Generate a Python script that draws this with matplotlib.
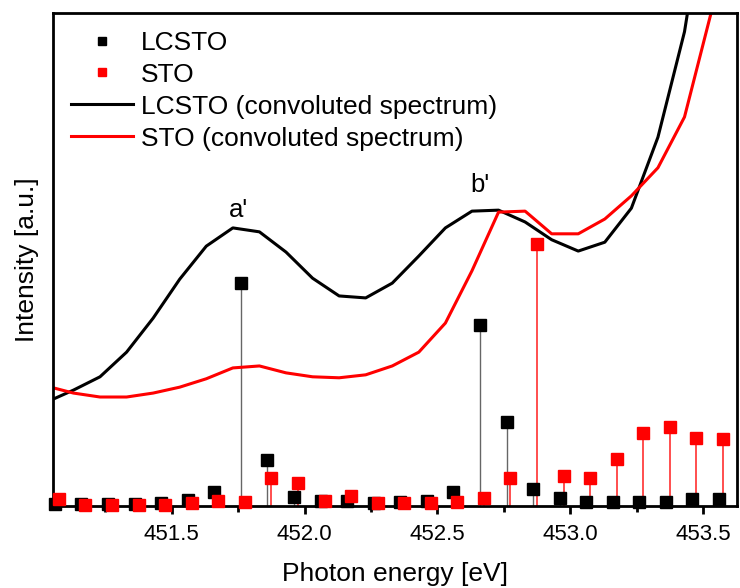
import numpy as np
import matplotlib.pyplot as plt

plt.rcParams['font.family'] = ['Liberation Sans', 'DejaVu Sans']

# stick spectra (photon energy in eV, intensity in a.u.)
lcsto_x = np.round(np.arange(451.06, 453.57, 0.1), 2)
lcsto_y = [0.004, 0.004, 0.004, 0.004, 0.006, 0.012, 0.028, 0.452, 0.093, 0.018,
           0.010, 0.010, 0.006, 0.008, 0.010, 0.028, 0.367, 0.170, 0.034, 0.016,
           0.008, 0.008, 0.008, 0.008, 0.014, 0.014]

sto_x = np.round(np.arange(451.075, 453.59, 0.1), 3)
sto_y = [0.014, 0.002, 0.002, 0.002, 0.002, 0.006, 0.010, 0.008, 0.057, 0.047,
         0.010, 0.020, 0.006, 0.006, 0.006, 0.008, 0.016, 0.057, 0.531, 0.061,
         0.057, 0.095, 0.148, 0.160, 0.138, 0.136]

# convoluted spectra
conv_x = np.round(np.arange(451.03, 453.64, 0.1), 2)
lcsto_conv = [0.211, 0.235, 0.262, 0.312, 0.381, 0.460, 0.527, 0.564, 0.556, 0.515,
              0.462, 0.426, 0.422, 0.452, 0.507, 0.564, 0.598, 0.600, 0.576, 0.540,
              0.517, 0.535, 0.604, 0.748, 0.962, 1.30, 1.70]
sto_conv = [0.243, 0.229, 0.221, 0.221, 0.229, 0.241, 0.258, 0.280, 0.284, 0.270,
            0.262, 0.260, 0.266, 0.284, 0.312, 0.371, 0.477, 0.596, 0.598, 0.552,
            0.552, 0.582, 0.629, 0.686, 0.789, 1.00, 1.40]

fig = plt.figure(figsize=(7.4, 5.88), dpi=100)
ax = fig.add_axes([0.0716, 0.1395, 0.9245, 0.8385])

# sticks
ax.vlines(lcsto_x, 0, lcsto_y, color='#666666', lw=1.0, zorder=1)
ax.vlines(sto_x, 0, sto_y, color='#ff3030', lw=1.2, zorder=1)
ax.plot(lcsto_x, lcsto_y, ls='none', marker='s', ms=8, color='black',
        label='LCSTO', clip_on=False, zorder=3)
ax.plot(sto_x, sto_y, ls='none', marker='s', ms=8, color='#ff0000',
        label='STO', clip_on=False, zorder=4)

# convoluted spectra
ax.plot(conv_x, lcsto_conv, color='black', lw=2.2,
        label='LCSTO (convoluted spectrum)', zorder=2)
ax.plot(conv_x, sto_conv, color='#ff0000', lw=2.2,
        label='STO (convoluted spectrum)', zorder=2)

ax.text(451.75, 0.60, "a'", fontsize=18.5, ha='center', va='center')
ax.text(452.66, 0.65, "b'", fontsize=18.5, ha='center', va='center')

ax.set_xlim(451.053, 453.628)
ax.set_ylim(0, 1)
ax.set_xticks([451.5, 452.0, 452.5, 453.0, 453.5])
ax.set_xticklabels(['451.5', '452.0', '452.5', '453.0', '453.5'])
ax.set_xticks(np.arange(451.25, 453.6, 0.5), minor=True)
ax.set_yticks([])
ax.tick_params(axis='x', which='major', direction='out', length=6, width=2,
               labelsize=16, pad=7)
ax.tick_params(axis='x', which='minor', direction='out', length=4, width=2)
for s in ax.spines.values():
    s.set_linewidth(2)

ax.set_xlabel('Photon energy [eV]', fontsize=19, labelpad=12)
ax.set_ylabel('Intensity [a.u.]', fontsize=19, labelpad=10)

ax.legend(loc='upper left', bbox_to_anchor=(-0.009, 1.012), frameon=False,
          fontsize=19, handlelength=2.35, handletextpad=0.3,
          labelspacing=0.3, markerscale=0.8)

fig.savefig('out.png', dpi=100)
